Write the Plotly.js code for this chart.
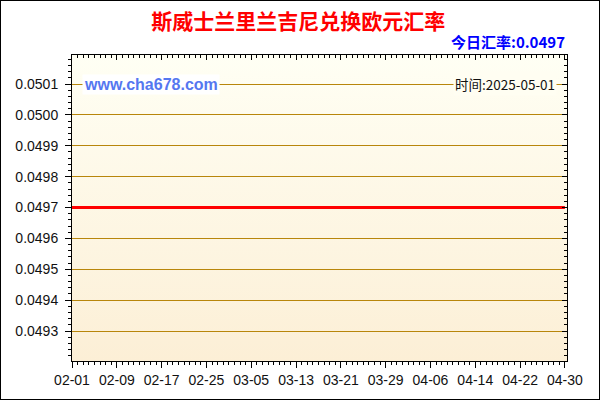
<!DOCTYPE html>
<html>
<head>
<meta charset="utf-8">
<script src="https://cdn.plot.ly/plotly-3.0.1.min.js"></script>
<style>
  html, body { margin: 0; padding: 0; background: #fff; }
  #chart { width: 600px; height: 400px; box-sizing: border-box; border: 1px solid #000; }
</style>
</head>
<body>
<div id="chart"></div>
<script>
// ─── data ────────────────────────────────────────────
var dates = ['2025-02-01', '2025-02-09', '2025-02-17', '2025-02-25', '2025-03-05', '2025-03-13',
             '2025-03-21', '2025-03-29', '2025-04-06', '2025-04-14', '2025-04-22', '2025-04-30'];
var rates = [0.0497, 0.0497, 0.0497, 0.0497, 0.0497, 0.0497,
             0.0497, 0.0497, 0.0497, 0.0497, 0.0497, 0.0497];
var tickLabels = ['02-01', '02-09', '02-17', '02-25', '03-05', '03-13',
                  '03-21', '03-29', '04-06', '04-14', '04-22', '04-30'];
var yTicks = [0.0493, 0.0494, 0.0495, 0.0496, 0.0497, 0.0498, 0.0499, 0.0500, 0.0501];
var titleText = '斯威士兰里兰吉尼兑换欧元汇率';
var todayText = '今日汇率:0.0497';
var dateText = '时间:2025-05-01';
var siteText = 'www.cha678.com';

var xRange = ['2025-02-01', '2025-04-30 09:00'];
var yRange = [0.049203, 0.050194];

// plot background gradient, as an svg image under the plot
var bgSvg = '<svg xmlns="http://www.w3.org/2000/svg" width="10" height="100" preserveAspectRatio="none">' +
  '<defs><linearGradient id="g" x1="0" y1="0" x2="0" y2="1">' +
  '<stop offset="0" stop-color="#FFFFF4"/><stop offset="1" stop-color="#FCEFD6"/></linearGradient></defs>' +
  '<rect width="10" height="100" fill="url(#g)"/></svg>';
var bgSrc = 'data:image/svg+xml;charset=utf-8,' + encodeURIComponent(bgSvg);

var tickFont = { family: 'Liberation Sans, Arial, sans-serif', size: 14, color: '#111' };

var traces = [
  {
    type: 'scatter', mode: 'lines', x: dates, y: rates,
    line: { color: '#FF0000', width: 3 }, hoverinfo: 'skip', showlegend: false,
  },
  {
    // invisible copy so the mirrored (inside-tick) axes get drawn
    type: 'scatter', mode: 'lines', x: dates, y: rates, xaxis: 'x2', yaxis: 'y2',
    line: { color: 'rgba(0,0,0,0)', width: 0 }, hoverinfo: 'skip', showlegend: false,
  },
];

var layout = {
  width: 598, height: 398,
  margin: { l: 71, r: 32, t: 54, b: 38 },
  paper_bgcolor: '#FFFFFF',
  plot_bgcolor: 'rgba(0,0,0,0)',
  font: tickFont,
  showlegend: false,
  title: {
    text: '<b>' + titleText + '</b>',
    x: 0.497, xanchor: 'center', y: 0.947, yanchor: 'middle',
    font: { family: 'Noto Sans CJK SC, sans-serif', size: 21, color: '#FF0000' },
  },
  xaxis: {
    type: 'date', range: xRange,
    tickmode: 'array', tickvals: dates, ticktext: tickLabels,
    ticks: 'outside', ticklen: 6, tickwidth: 1, tickcolor: '#000',
    minor: { dtick: 86400000, tick0: '2025-02-01', ticks: 'outside', ticklen: 3, tickcolor: '#000', showgrid: false },
    showline: true, linecolor: '#000', linewidth: 1,
    showgrid: false, zeroline: false, fixedrange: true,
    tickfont: tickFont,
  },
  yaxis: {
    range: yRange,
    tickmode: 'array', tickvals: yTicks, ticktext: yTicks.map(function (v) { return v.toFixed(4); }),
    ticks: 'outside', ticklen: 6, tickwidth: 1, tickcolor: '#000',
    minor: { dtick: 0.00002, tick0: 0.0493, ticks: 'outside', ticklen: 3, tickcolor: '#000', showgrid: false },
    showline: true, linecolor: '#000', linewidth: 1,
    showgrid: true, gridcolor: '#B8860B', gridwidth: 1,
    zeroline: false, fixedrange: true, ticklabelstandoff: 4,
    tickfont: tickFont,
  },
  xaxis2: {
    type: 'date', range: xRange, overlaying: 'x', side: 'top', anchor: 'y2',
    tickmode: 'array', tickvals: dates, showticklabels: false,
    ticks: 'inside', ticklen: 5, tickcolor: '#000',
    minor: { dtick: 86400000, tick0: '2025-02-01', ticks: 'inside', ticklen: 3, tickcolor: '#000', showgrid: false },
    showline: true, linecolor: '#000', linewidth: 1, showgrid: false, zeroline: false, fixedrange: true,
  },
  yaxis2: {
    range: yRange, overlaying: 'y', side: 'right', anchor: 'x2',
    tickmode: 'array', tickvals: yTicks, showticklabels: false,
    ticks: 'inside', ticklen: 5, tickcolor: '#000',
    minor: { dtick: 0.00002, tick0: 0.0493, ticks: 'inside', ticklen: 3, tickcolor: '#000', showgrid: false },
    showline: true, linecolor: '#000', linewidth: 1, showgrid: false, zeroline: false, fixedrange: true,
  },
  images: [{
    source: bgSrc, xref: 'paper', yref: 'paper', x: 0, y: 1, sizex: 1, sizey: 1,
    xanchor: 'left', yanchor: 'top', sizing: 'stretch', layer: 'below',
  }],
  annotations: [
    {
      text: '<b>' + todayText + '</b>', xref: 'paper', yref: 'paper',
      x: 1, xanchor: 'right', y: 1.0, yanchor: 'bottom', yshift: 1, showarrow: false,
      font: { family: 'Noto Sans CJK SC, sans-serif', size: 15, color: '#0000FF' },
    },
    {
      text: '<b>' + siteText + '</b>', xref: 'paper', yref: 'y',
      x: 0.02, xanchor: 'left', y: 0.0501, yanchor: 'middle', showarrow: false,
      bgcolor: '#FFFFFF', borderpad: 1,
      font: { family: 'Liberation Sans, Arial, sans-serif', size: 16, color: '#5577F0' },
    },
    {
      text: dateText, xref: 'paper', yref: 'y',
      x: 0.98, xanchor: 'right', y: 0.0501, yanchor: 'middle', showarrow: false,
      bgcolor: '#FFFEF2', borderpad: 1,
      font: { family: 'Noto Sans CJK SC, DejaVu Sans, sans-serif', size: 13.5, color: '#111' },
    },
  ],
};

Plotly.newPlot('chart', traces, layout, { displayModeBar: false, staticPlot: true });
</script>
</body>
</html>
